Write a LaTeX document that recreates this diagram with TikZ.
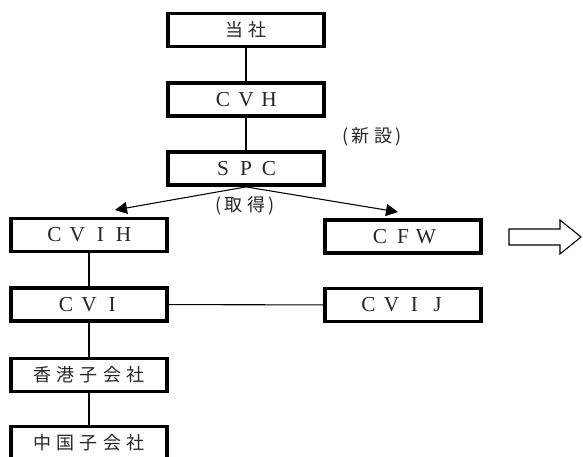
\documentclass[tikz,border=0pt]{standalone}
\usepackage{fontspec}
\setmainfont{Liberation Serif}
\newfontfamily\cjk{Noto Sans CJK JP}
\usetikzlibrary{arrows.meta}
\newcommand\fw[1]{\makebox[17.3pt]{#1}}
\begin{document}
\begin{tikzpicture}[x=0.75pt,y=-0.75pt,
  box/.style={draw=black,line width=2.6pt,minimum width=117pt,minimum height=25pt,inner sep=0pt,font=\fontsize{16}{18}\selectfont,text=black!85},
  jp/.style={font=\cjk\fontsize{13.5}{15}\selectfont},
  conn/.style={line width=0.8pt},
  lbl/.style={font=\cjk\fontsize{13.5}{15}\selectfont,text=black!85}]
\useasboundingbox (0,0) rectangle (583,457);
\node[box,jp] (tosha) at (246,30) {\fw{当}\fw{社}};
\node[box] (cvh) at (246,99.5) {\fw{C}\fw{V}\fw{H}};
\node[box] (spc) at (246,168.5) {\fw{S}\fw{P}\fw{C}};
\node[box] (cvih) at (89,235) {\fw{C}\fw{V}\fw{I}\fw{H}};
\node[box] (cvi) at (89,304.5) {\fw{C}\fw{V}\fw{I}};
\node[box,jp] (hk) at (89,375) {\fw{香}\fw{港}\fw{子}\fw{会}\fw{社}};
\node[box,jp] (cn) at (89,443) {\fw{中}\fw{国}\fw{子}\fw{会}\fw{社}};
\node[box] (cfw) at (403,236.5) {\fw{C}\fw{F}\fw{W}};
\node[box] (cvij) at (403,305) {\fw{C}\fw{V}\fw{I}\fw{J}};
\node[lbl] (shinsetsu) at (372,137) {(\fw{新}\fw{設})};
\node[lbl] (shutoku) at (245,206) {(\fw{取}\fw{得})};
\coordinate (tl) at (115,210);
\coordinate (tr) at (398,212);
\draw[conn] (tosha) -- (cvh);
\draw[conn] (cvh) -- (spc);
\draw[conn,-{Triangle[length=9pt,width=9pt]}] (spc.south) -- (tl);
\draw[conn,-{Triangle[length=9pt,width=9pt]}] (spc.south) -- (tr);
\draw[conn] (cvih) -- (cvi);
\draw[conn] (cvi) -- (hk);
\draw[conn] (hk) -- (cn);
\draw[conn] (cvi) -- (cvij);
\draw[line width=0.8pt] (509,229) -- (560,229) -- (560,220) -- (581,237) -- (560,254) -- (560,245) -- (509,245) -- cycle;
\end{tikzpicture}
\end{document}
